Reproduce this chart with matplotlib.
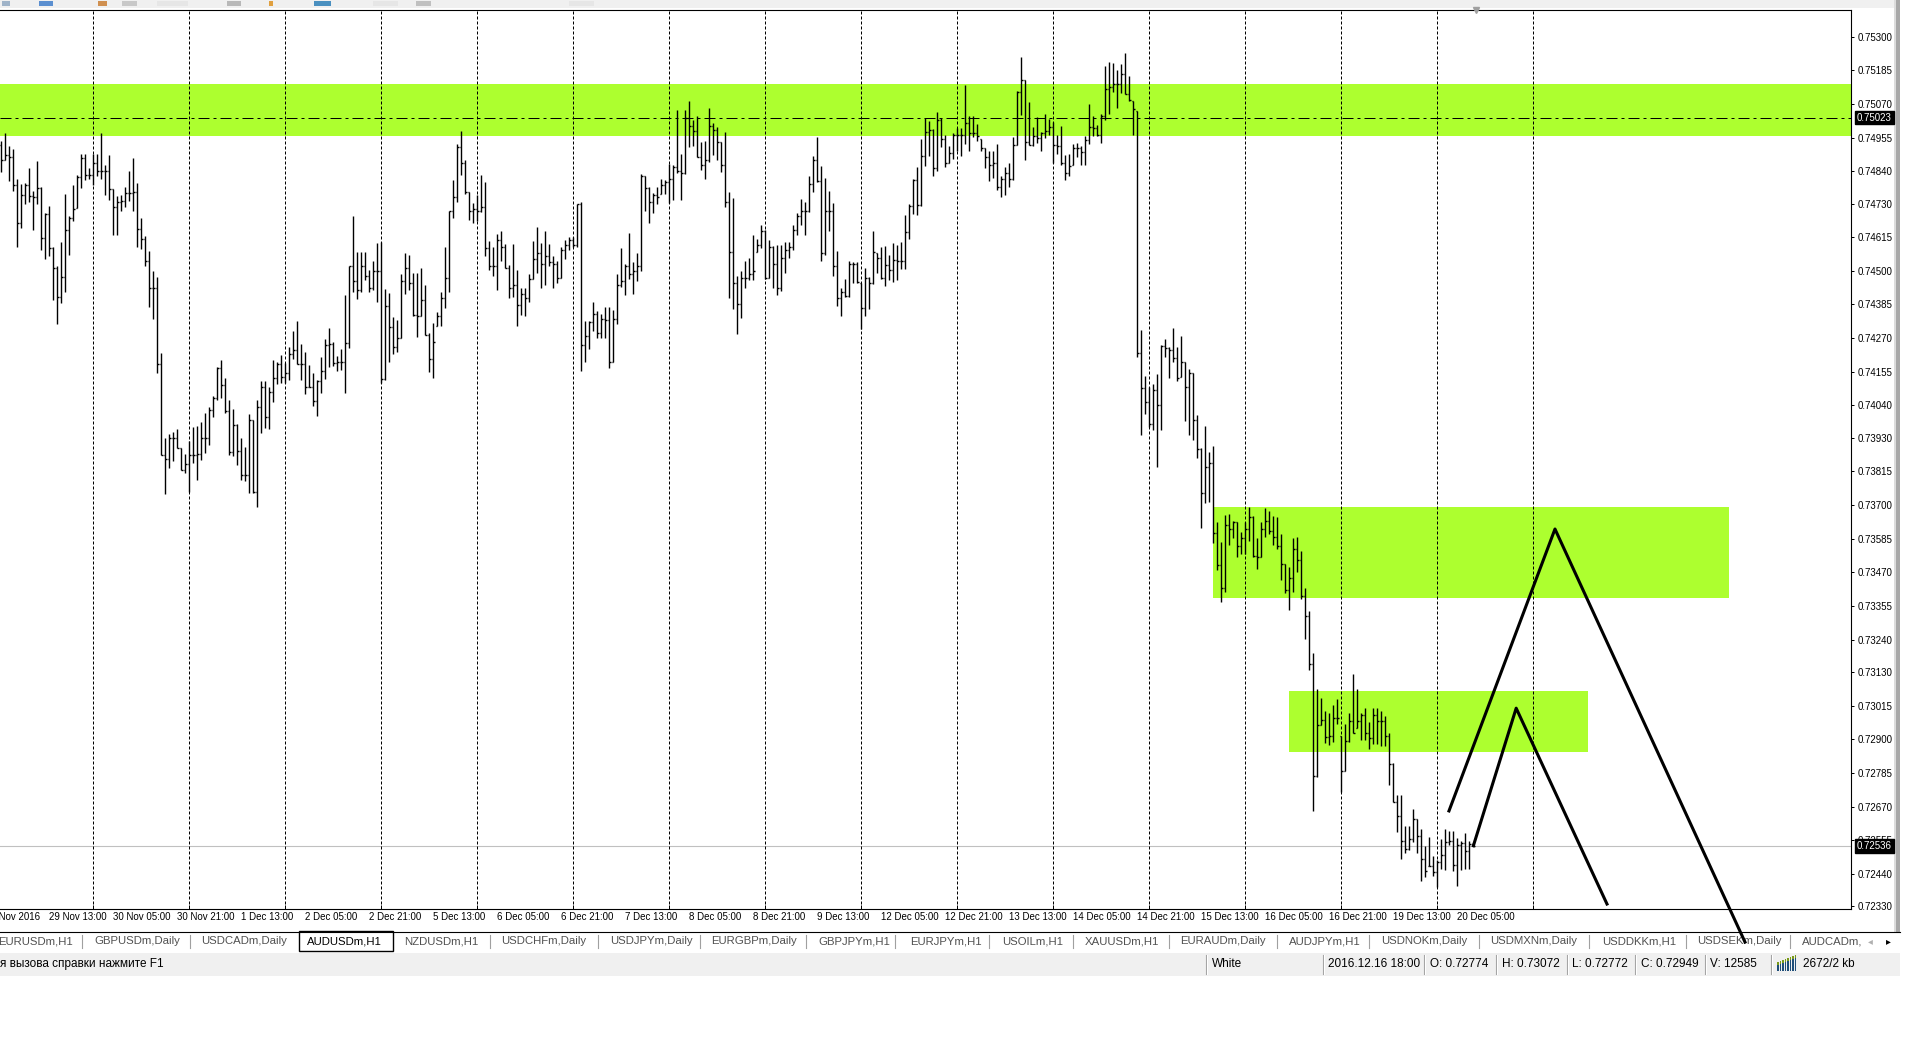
import numpy as np
import matplotlib
matplotlib.use('Agg')
import matplotlib.pyplot as plt
from matplotlib.patches import Rectangle
from matplotlib.lines import Line2D
from matplotlib.transforms import blended_transform_factory

plt.rcParams['font.family'] = ['Liberation Sans', 'DejaVu Sans']

# AUDUSDm H1 bars, 29 Nov 2016 01:00 .. 20 Dec 2016 09:00
opens = [0.74930, 0.74877, 0.74897, 0.74889, 0.74794, 0.74663, 0.74758, 0.74794, 0.74754, 0.74751,
         0.74783, 0.74612, 0.74695, 0.74578, 0.74509, 0.74409, 0.74478, 0.74640, 0.74680, 0.74711,
         0.74820, 0.74885, 0.74828, 0.74829, 0.74868, 0.74842, 0.74842, 0.74842, 0.74780, 0.74718,
         0.74735, 0.74737, 0.74766, 0.74766, 0.74769, 0.74644, 0.74608, 0.74532, 0.74441, 0.74441,
         0.74182, 0.73871, 0.73857, 0.73930, 0.73930, 0.73894, 0.73819, 0.73839, 0.73871, 0.73871,
         0.73873, 0.73930, 0.73930, 0.74025, 0.74067, 0.74167, 0.74109, 0.74021, 0.73881, 0.73973,
         0.73884, 0.73801, 0.73801, 0.73990, 0.73743, 0.74036, 0.74102, 0.73999, 0.74086, 0.74133,
         0.74182, 0.74136, 0.74150, 0.74215, 0.74230, 0.74181, 0.74181, 0.74104, 0.74104, 0.74054,
         0.74125, 0.74159, 0.74247, 0.74250, 0.74184, 0.74187, 0.74187, 0.74253, 0.74517, 0.74464,
         0.74433, 0.74515, 0.74483, 0.74441, 0.74501, 0.74498, 0.74130, 0.74381, 0.74307, 0.74239,
         0.74270, 0.74466, 0.74511, 0.74458, 0.74350, 0.74346, 0.74401, 0.74281, 0.74199, 0.74258,
         0.74346, 0.74407, 0.74477, 0.74703, 0.74752, 0.74923, 0.74868, 0.74768, 0.74706, 0.74711,
         0.74706, 0.74717, 0.74578, 0.74517, 0.74517, 0.74606, 0.74581, 0.74508, 0.74443, 0.74452,
         0.74383, 0.74421, 0.74407, 0.74473, 0.74541, 0.74560, 0.74523, 0.74549, 0.74530, 0.74524,
         0.74475, 0.74570, 0.74587, 0.74604, 0.74587, 0.74728, 0.74247, 0.74278, 0.74324, 0.74353,
         0.74289, 0.74335, 0.74332, 0.74190, 0.74335, 0.74451, 0.74466, 0.74518, 0.74489, 0.74498,
         0.74515, 0.74823, 0.74783, 0.74735, 0.74758, 0.74752, 0.74792, 0.74803, 0.74815, 0.74855,
         0.74840, 0.74834, 0.75022, 0.74996, 0.74977, 0.74889, 0.74863, 0.74877, 0.74996, 0.74982,
         0.74940, 0.74860, 0.74735, 0.74563, 0.74458, 0.74386, 0.74475, 0.74475, 0.74489, 0.74501,
         0.74587, 0.74635, 0.74475, 0.74581, 0.74524, 0.74441, 0.74543, 0.74570, 0.74580, 0.74640,
         0.74688, 0.74706, 0.74703, 0.74798, 0.74877, 0.74806, 0.74560, 0.74703, 0.74703, 0.74515,
         0.74407, 0.74427, 0.74414, 0.74523, 0.74523, 0.74461, 0.74372, 0.74475, 0.74458, 0.74564,
         0.74543, 0.74475, 0.74521, 0.74503, 0.74538, 0.74535, 0.74535, 0.74631, 0.74723, 0.74811,
         0.74726, 0.74891, 0.74973, 0.74982, 0.74851, 0.75016, 0.74950, 0.74868, 0.74902, 0.74963,
         0.74965, 0.74965, 0.75005, 0.74971, 0.74971, 0.74959, 0.74920, 0.74889, 0.74863, 0.74868,
         0.74788, 0.74813, 0.74834, 0.74813, 0.74931, 0.75111, 0.75153, 0.74940, 0.74931, 0.74959,
         0.74954, 0.74971, 0.74977, 0.74991, 0.74931, 0.74927, 0.74868, 0.74834, 0.74859, 0.74920,
         0.74920, 0.74906, 0.74946, 0.74990, 0.74988, 0.74963, 0.75030, 0.75121, 0.75127, 0.75138,
         0.75138, 0.75173, 0.75104, 0.75083, 0.75053, 0.74221, 0.74101, 0.74051, 0.73976, 0.74092,
         0.74042, 0.74244, 0.74235, 0.74231, 0.74203, 0.74135, 0.74187, 0.74102, 0.74151, 0.73989,
         0.73892, 0.73740, 0.73829, 0.73845, 0.73605, 0.73494, 0.73417, 0.73632, 0.73619, 0.73643,
         0.73560, 0.73587, 0.73619, 0.73660, 0.73527, 0.73521, 0.73619, 0.73647, 0.73612, 0.73592,
         0.73560, 0.73497, 0.73410, 0.73450, 0.73550, 0.73513, 0.73388, 0.73321, 0.73157, 0.72774,
         0.72949, 0.72967, 0.72909, 0.72911, 0.72971, 0.72974, 0.72792, 0.72894, 0.72961, 0.72922,
         0.72961, 0.72981, 0.72922, 0.72905, 0.72981, 0.72961, 0.72962, 0.72911, 0.72814, 0.72685,
         0.72639, 0.72552, 0.72526, 0.72559, 0.72628, 0.72570, 0.72492, 0.72450, 0.72466, 0.72446,
         0.72479, 0.72506, 0.72550, 0.72552, 0.72470, 0.72539, 0.72546, 0.72519, 0.72541]

highs = [0.74942, 0.74971, 0.74925, 0.74917, 0.74813, 0.74798, 0.74800, 0.74852, 0.74774, 0.74876,
         0.74788, 0.74697, 0.74723, 0.74583, 0.74518, 0.74599, 0.74763, 0.74686, 0.74792, 0.74827,
         0.74900, 0.74900, 0.74852, 0.74900, 0.74899, 0.74971, 0.74861, 0.74897, 0.74780, 0.74754,
         0.74760, 0.74788, 0.74840, 0.74884, 0.74800, 0.74680, 0.74620, 0.74568, 0.74500, 0.74479,
         0.74218, 0.73928, 0.73944, 0.73949, 0.73960, 0.73895, 0.73873, 0.73919, 0.73966, 0.73971,
         0.73982, 0.74013, 0.74036, 0.74072, 0.74173, 0.74196, 0.74133, 0.74059, 0.74028, 0.73977,
         0.73929, 0.73897, 0.74010, 0.73990, 0.74059, 0.74122, 0.74123, 0.74104, 0.74196, 0.74187,
         0.74213, 0.74184, 0.74239, 0.74295, 0.74329, 0.74249, 0.74224, 0.74179, 0.74150, 0.74127,
         0.74204, 0.74267, 0.74304, 0.74258, 0.74209, 0.74232, 0.74418, 0.74518, 0.74688, 0.74566,
         0.74564, 0.74565, 0.74503, 0.74534, 0.74595, 0.74598, 0.74438, 0.74424, 0.74342, 0.74332,
         0.74489, 0.74560, 0.74554, 0.74492, 0.74492, 0.74509, 0.74451, 0.74287, 0.74321, 0.74361,
         0.74427, 0.74581, 0.74703, 0.74810, 0.74934, 0.74979, 0.74880, 0.74768, 0.74731, 0.74760,
         0.74828, 0.74803, 0.74603, 0.74581, 0.74625, 0.74637, 0.74592, 0.74521, 0.74592, 0.74503,
         0.74441, 0.74443, 0.74489, 0.74603, 0.74649, 0.74595, 0.74637, 0.74592, 0.74549, 0.74535,
         0.74581, 0.74604, 0.74615, 0.74615, 0.74729, 0.74735, 0.74329, 0.74327, 0.74393, 0.74363,
         0.74352, 0.74375, 0.74376, 0.74367, 0.74489, 0.74578, 0.74523, 0.74629, 0.74530, 0.74560,
         0.74831, 0.74823, 0.74785, 0.74766, 0.74785, 0.74815, 0.74811, 0.74865, 0.74860, 0.75051,
         0.74899, 0.75051, 0.75081, 0.75016, 0.75030, 0.74941, 0.74942, 0.75056, 0.75005, 0.74991,
         0.74940, 0.74974, 0.74769, 0.74749, 0.74483, 0.74500, 0.74535, 0.74543, 0.74623, 0.74609,
         0.74657, 0.74640, 0.74606, 0.74586, 0.74587, 0.74587, 0.74598, 0.74600, 0.74655, 0.74697,
         0.74746, 0.74735, 0.74823, 0.74893, 0.74957, 0.74859, 0.74817, 0.74774, 0.74731, 0.74568,
         0.74441, 0.74472, 0.74534, 0.74529, 0.74529, 0.74458, 0.74509, 0.74478, 0.74637, 0.74560,
         0.74581, 0.74586, 0.74555, 0.74595, 0.74589, 0.74597, 0.74692, 0.74729, 0.74813, 0.74853,
         0.74950, 0.75022, 0.75013, 0.74985, 0.75042, 0.75022, 0.74963, 0.74928, 0.74971, 0.74988,
         0.74988, 0.75136, 0.75028, 0.75030, 0.75002, 0.74951, 0.74920, 0.74910, 0.74910, 0.74934,
         0.74825, 0.74855, 0.74868, 0.74957, 0.75113, 0.75231, 0.75153, 0.75078, 0.74991, 0.75024,
         0.74973, 0.75037, 0.75019, 0.75007, 0.74965, 0.74996, 0.74897, 0.74900, 0.74934, 0.74937,
         0.74928, 0.74962, 0.75071, 0.75028, 0.74998, 0.75037, 0.75201, 0.75215, 0.75210, 0.75187,
         0.75205, 0.75244, 0.75165, 0.75081, 0.75047, 0.74298, 0.74140, 0.74103, 0.74115, 0.74148,
         0.74248, 0.74268, 0.74239, 0.74305, 0.74239, 0.74277, 0.74187, 0.74166, 0.74151, 0.74009,
         0.73896, 0.73969, 0.73882, 0.73902, 0.73643, 0.73574, 0.73667, 0.73670, 0.73647, 0.73643,
         0.73607, 0.73643, 0.73693, 0.73663, 0.73587, 0.73643, 0.73689, 0.73680, 0.73663, 0.73660,
         0.73600, 0.73497, 0.73487, 0.73587, 0.73592, 0.73543, 0.73417, 0.73337, 0.73193, 0.73072,
         0.73042, 0.72998, 0.72991, 0.73018, 0.73038, 0.72911, 0.72951, 0.72989, 0.73124, 0.73071,
         0.72989, 0.73005, 0.72958, 0.73005, 0.73005, 0.72995, 0.72978, 0.72921, 0.72818, 0.72708,
         0.72708, 0.72602, 0.72602, 0.72663, 0.72628, 0.72592, 0.72536, 0.72566, 0.72502, 0.72486,
         0.72559, 0.72592, 0.72587, 0.72586, 0.72563, 0.72552, 0.72579, 0.72552, 0.72544]

lows = [0.74836, 0.74880, 0.74806, 0.74771, 0.74580, 0.74648, 0.74729, 0.74734, 0.74640, 0.74728,
        0.74572, 0.74541, 0.74552, 0.74399, 0.74319, 0.74389, 0.74429, 0.74555, 0.74669, 0.74713,
        0.74782, 0.74809, 0.74815, 0.74792, 0.74823, 0.74813, 0.74758, 0.74743, 0.74623, 0.74623,
        0.74706, 0.74717, 0.74739, 0.74706, 0.74583, 0.74574, 0.74515, 0.74375, 0.74335, 0.74150,
        0.73871, 0.73736, 0.73827, 0.73851, 0.73894, 0.73819, 0.73810, 0.73745, 0.73845, 0.73787,
        0.73854, 0.73876, 0.73905, 0.74002, 0.74059, 0.74065, 0.74013, 0.73871, 0.73868, 0.73838,
        0.73787, 0.73783, 0.73740, 0.73740, 0.73694, 0.73947, 0.73962, 0.73960, 0.74053, 0.74112,
        0.74116, 0.74116, 0.74127, 0.74198, 0.74181, 0.74127, 0.74079, 0.74102, 0.74039, 0.74005,
        0.74084, 0.74131, 0.74171, 0.74176, 0.74157, 0.74161, 0.74081, 0.74236, 0.74426, 0.74403,
        0.74429, 0.74469, 0.74427, 0.74433, 0.74395, 0.74116, 0.74127, 0.74187, 0.74216, 0.74224,
        0.74270, 0.74421, 0.74433, 0.74344, 0.74275, 0.74344, 0.74281, 0.74156, 0.74135, 0.74310,
        0.74310, 0.74372, 0.74429, 0.74682, 0.74736, 0.74826, 0.74763, 0.74674, 0.74665, 0.74669,
        0.74700, 0.74549, 0.74503, 0.74481, 0.74433, 0.74535, 0.74508, 0.74407, 0.74410, 0.74310,
        0.74350, 0.74344, 0.74395, 0.74473, 0.74494, 0.74443, 0.74452, 0.74515, 0.74440, 0.74458,
        0.74475, 0.74540, 0.74570, 0.74583, 0.74583, 0.74159, 0.74190, 0.74232, 0.74296, 0.74272,
        0.74272, 0.74270, 0.74169, 0.74190, 0.74318, 0.74444, 0.74416, 0.74473, 0.74420, 0.74464,
        0.74498, 0.74706, 0.74663, 0.74697, 0.74728, 0.74762, 0.74763, 0.74731, 0.74743, 0.74834,
        0.74743, 0.74831, 0.74923, 0.74925, 0.74889, 0.74845, 0.74813, 0.74871, 0.74897, 0.74877,
        0.74837, 0.74718, 0.74407, 0.74369, 0.74283, 0.74338, 0.74441, 0.74469, 0.74469, 0.74564,
        0.74578, 0.74472, 0.74474, 0.74443, 0.74416, 0.74432, 0.74492, 0.74543, 0.74572, 0.74621,
        0.74655, 0.74623, 0.74700, 0.74768, 0.74802, 0.74532, 0.74555, 0.74635, 0.74484, 0.74381,
        0.74344, 0.74412, 0.74412, 0.74460, 0.74458, 0.74300, 0.74346, 0.74370, 0.74454, 0.74492,
        0.74472, 0.74449, 0.74467, 0.74461, 0.74467, 0.74506, 0.74506, 0.74609, 0.74694, 0.74692,
        0.74723, 0.74857, 0.74891, 0.74825, 0.74840, 0.74923, 0.74855, 0.74868, 0.74882, 0.74908,
        0.74891, 0.74934, 0.74908, 0.74957, 0.74942, 0.74908, 0.74851, 0.74806, 0.74817, 0.74777,
        0.74752, 0.74758, 0.74788, 0.74811, 0.74931, 0.75031, 0.74880, 0.74931, 0.74927, 0.74937,
        0.74910, 0.74954, 0.74965, 0.74868, 0.74899, 0.74863, 0.74809, 0.74823, 0.74863, 0.74889,
        0.74863, 0.74860, 0.74934, 0.74959, 0.74959, 0.74937, 0.75016, 0.75037, 0.75111, 0.75056,
        0.75108, 0.75104, 0.75081, 0.74963, 0.74207, 0.73939, 0.74010, 0.73965, 0.73955, 0.73829,
        0.73955, 0.74206, 0.74135, 0.74187, 0.74123, 0.74138, 0.73986, 0.73938, 0.73922, 0.73862,
        0.73623, 0.73707, 0.73712, 0.73570, 0.73477, 0.73370, 0.73404, 0.73563, 0.73587, 0.73523,
        0.73534, 0.73534, 0.73576, 0.73521, 0.73483, 0.73521, 0.73592, 0.73600, 0.73563, 0.73550,
        0.73443, 0.73401, 0.73340, 0.73404, 0.73470, 0.73380, 0.73244, 0.73135, 0.72655, 0.72772,
        0.72949, 0.72888, 0.72881, 0.72889, 0.72951, 0.72721, 0.72792, 0.72891, 0.72921, 0.72938,
        0.72898, 0.72898, 0.72865, 0.72885, 0.72882, 0.72876, 0.72878, 0.72745, 0.72685, 0.72582,
        0.72492, 0.72512, 0.72523, 0.72550, 0.72512, 0.72417, 0.72430, 0.72466, 0.72433, 0.72395,
        0.72457, 0.72453, 0.72539, 0.72450, 0.72399, 0.72453, 0.72457, 0.72457, 0.72535]

closes = [0.74877, 0.74897, 0.74889, 0.74794, 0.74663, 0.74758, 0.74794, 0.74754, 0.74751, 0.74783,
          0.74612, 0.74695, 0.74578, 0.74509, 0.74409, 0.74478, 0.74640, 0.74680, 0.74711, 0.74820,
          0.74885, 0.74828, 0.74829, 0.74868, 0.74842, 0.74842, 0.74842, 0.74780, 0.74718, 0.74735,
          0.74737, 0.74766, 0.74766, 0.74769, 0.74644, 0.74608, 0.74532, 0.74441, 0.74441, 0.74182,
          0.73871, 0.73857, 0.73930, 0.73930, 0.73894, 0.73819, 0.73839, 0.73871, 0.73871, 0.73873,
          0.73930, 0.73930, 0.74025, 0.74067, 0.74167, 0.74109, 0.74021, 0.73881, 0.73973, 0.73884,
          0.73801, 0.73801, 0.73990, 0.73743, 0.74036, 0.74102, 0.73999, 0.74086, 0.74133, 0.74182,
          0.74136, 0.74150, 0.74215, 0.74230, 0.74181, 0.74181, 0.74104, 0.74104, 0.74054, 0.74125,
          0.74159, 0.74247, 0.74250, 0.74184, 0.74187, 0.74187, 0.74253, 0.74517, 0.74464, 0.74433,
          0.74515, 0.74483, 0.74441, 0.74501, 0.74498, 0.74130, 0.74381, 0.74307, 0.74239, 0.74270,
          0.74466, 0.74511, 0.74458, 0.74350, 0.74346, 0.74401, 0.74281, 0.74199, 0.74258, 0.74346,
          0.74407, 0.74477, 0.74703, 0.74752, 0.74923, 0.74868, 0.74768, 0.74706, 0.74711, 0.74706,
          0.74717, 0.74578, 0.74517, 0.74517, 0.74606, 0.74581, 0.74508, 0.74443, 0.74452, 0.74383,
          0.74421, 0.74407, 0.74473, 0.74541, 0.74560, 0.74523, 0.74549, 0.74530, 0.74524, 0.74475,
          0.74570, 0.74587, 0.74604, 0.74587, 0.74728, 0.74247, 0.74278, 0.74324, 0.74353, 0.74289,
          0.74335, 0.74332, 0.74190, 0.74335, 0.74451, 0.74466, 0.74518, 0.74489, 0.74498, 0.74515,
          0.74823, 0.74783, 0.74735, 0.74758, 0.74752, 0.74792, 0.74803, 0.74815, 0.74855, 0.74840,
          0.74834, 0.75022, 0.74996, 0.74977, 0.74889, 0.74863, 0.74877, 0.74996, 0.74982, 0.74940,
          0.74860, 0.74735, 0.74563, 0.74458, 0.74386, 0.74475, 0.74475, 0.74489, 0.74501, 0.74587,
          0.74635, 0.74475, 0.74581, 0.74524, 0.74441, 0.74543, 0.74570, 0.74580, 0.74640, 0.74688,
          0.74706, 0.74703, 0.74798, 0.74877, 0.74806, 0.74560, 0.74703, 0.74703, 0.74515, 0.74407,
          0.74427, 0.74414, 0.74523, 0.74523, 0.74461, 0.74372, 0.74475, 0.74458, 0.74564, 0.74543,
          0.74475, 0.74521, 0.74503, 0.74538, 0.74535, 0.74535, 0.74631, 0.74723, 0.74811, 0.74726,
          0.74891, 0.74973, 0.74982, 0.74851, 0.75016, 0.74950, 0.74868, 0.74902, 0.74963, 0.74965,
          0.74965, 0.75005, 0.74971, 0.74971, 0.74959, 0.74920, 0.74889, 0.74863, 0.74868, 0.74788,
          0.74813, 0.74834, 0.74813, 0.74931, 0.75111, 0.75153, 0.74940, 0.74931, 0.74959, 0.74954,
          0.74971, 0.74977, 0.74991, 0.74931, 0.74927, 0.74868, 0.74834, 0.74859, 0.74920, 0.74920,
          0.74906, 0.74946, 0.74990, 0.74988, 0.74963, 0.75030, 0.75121, 0.75127, 0.75138, 0.75138,
          0.75173, 0.75104, 0.75083, 0.75053, 0.74221, 0.74101, 0.74051, 0.73976, 0.74092, 0.74042,
          0.74244, 0.74235, 0.74231, 0.74203, 0.74135, 0.74187, 0.74102, 0.74151, 0.73989, 0.73892,
          0.73740, 0.73829, 0.73845, 0.73605, 0.73494, 0.73417, 0.73632, 0.73619, 0.73643, 0.73560,
          0.73587, 0.73619, 0.73660, 0.73527, 0.73521, 0.73619, 0.73647, 0.73612, 0.73592, 0.73560,
          0.73497, 0.73410, 0.73450, 0.73550, 0.73513, 0.73388, 0.73321, 0.73157, 0.72774, 0.72949,
          0.72967, 0.72909, 0.72911, 0.72971, 0.72974, 0.72792, 0.72894, 0.72961, 0.72922, 0.72961,
          0.72981, 0.72922, 0.72905, 0.72981, 0.72961, 0.72962, 0.72911, 0.72814, 0.72685, 0.72639,
          0.72552, 0.72526, 0.72559, 0.72628, 0.72570, 0.72492, 0.72450, 0.72466, 0.72446, 0.72479,
          0.72506, 0.72550, 0.72552, 0.72470, 0.72539, 0.72546, 0.72519, 0.72541, 0.72536]

price_ticks = [0.75300, 0.75185, 0.75070, 0.74955, 0.74840, 0.74730, 0.74615, 0.74500, 0.74385,
               0.74270, 0.74155, 0.74040, 0.73930, 0.73815, 0.73700, 0.73585, 0.73470, 0.73355,
               0.73240, 0.73130, 0.73015, 0.72900, 0.72785, 0.72670, 0.72555, 0.72440, 0.72330]

time_labels = ['29 Nov 2016', '29 Nov 13:00', '30 Nov 05:00', '30 Nov 21:00', '1 Dec 13:00',
               '2 Dec 05:00', '2 Dec 21:00', '5 Dec 13:00', '6 Dec 05:00', '6 Dec 21:00',
               '7 Dec 13:00', '8 Dec 05:00', '8 Dec 21:00', '9 Dec 13:00', '12 Dec 05:00',
               '12 Dec 21:00', '13 Dec 13:00', '14 Dec 05:00', '14 Dec 21:00', '15 Dec 13:00',
               '16 Dec 05:00', '16 Dec 21:00', '19 Dec 13:00', '20 Dec 05:00']
label_bars = [-4, 12, 28, 44, 60, 76, 92, 108, 124, 140, 156, 172, 188, 204, 220, 236,
              252, 268, 284, 300, 316, 332, 348, 364]
day_bars = [23, 47, 71, 95, 119, 143, 167, 191, 215, 239, 263, 287, 311, 335, 359, 383]

# supply/demand zones: (first bar, last bar, bottom, top)
zone_start = [-5, 303, 322]
zone_end = [470, 432, 396.7]
zone_low = [0.74962, 0.73384, 0.72858]
zone_high = [0.75139, 0.73693, 0.73064]

level_price = 0.75023
bid_price = 0.72536

# hand-drawn zigzag projections
zig1_x = [361.9, 388.4, 435.9]
zig1_y = [0.72655, 0.73618, 0.72207]
zig2_x = [368.0, 378.7, 401.4]
zig2_y = [0.72536, 0.73006, 0.72337]

tabs = ['EURUSDm,H1', 'GBPUSDm,Daily', 'USDCADm,Daily', 'AUDUSDm,H1', 'NZDUSDm,H1',
        'USDCHFm,Daily', 'USDJPYm,Daily', 'EURGBPm,Daily', 'GBPJPYm,H1', 'EURJPYm,H1',
        'USOILm,H1', 'XAUUSDm,H1', 'EURAUDm,Daily', 'AUDJPYm,H1', 'USDNOKm,Daily',
        'USDMXNm,Daily', 'USDDKKm,H1', 'USDSEKm,Daily', 'AUDCADm,']
tab_x = [-2, 94, 201, 307, 404, 501, 610, 711, 818, 910, 1002, 1085, 1180, 1289, 1381,
         1490, 1602, 1697, 1802]
tab_sep_x = [82, 190, 490, 598, 700, 806, 895, 989, 1073, 1169, 1277, 1369, 1479, 1589,
             1686, 1790]

status_items = ['White', '2016.12.16 18:00', 'O: 0.72774', 'H: 0.73072', 'L: 0.72772',
                'C: 0.72949', 'V: 12585', '2672/2 kb']
status_x = [1212, 1328, 1430, 1502, 1572, 1641, 1710, 1803]
status_sep_x = [1206, 1323, 1424, 1496, 1567, 1635, 1705, 1771]

W, H = 1920, 1040


def fx(px):
    return px / W


def fy(py):
    return 1 - py / H


fig = plt.figure(figsize=(19.2, 10.4), dpi=100)
fig.patch.set_facecolor('white')

ax = fig.add_axes([0, fy(909), 1851 / W, (909 - 10) / H])
ax.set_zorder(5)
ax.set_facecolor('white')
ax.set_xlim(-0.325, 462.4)
ax.set_ylim(0.72320, 0.75391)

x = np.arange(len(closes))
o = np.clip(opens, lows, highs)

for s, e, lo, hi in zip(zone_start, zone_end, zone_low, zone_high):
    ax.add_patch(Rectangle((s, lo), e - s, hi - lo, facecolor='#adff2f',
                           edgecolor='none', zorder=1))

for b in day_bars:
    ax.axvline(b, color='black', lw=0.72, ls=(0, (3, 2)), zorder=2)

ax.axhline(bid_price, color='#c0c0c0', lw=0.8, zorder=1.5)
ax.axhline(level_price, color='black', lw=0.72, ls=(0, (11, 4, 3, 4)), zorder=2.5)

ax.vlines(x, lows, highs, colors='black', lw=1.0, zorder=3)
ax.hlines(o, x - 0.4, x, colors='black', lw=1.0, zorder=3)
ax.hlines(closes, x, x + 0.4, colors='black', lw=1.0, zorder=3)

ax.plot(zig1_x, zig1_y, color='black', lw=2.2, clip_on=False, zorder=8)
ax.plot(zig2_x, zig2_y, color='black', lw=2.2, clip_on=False, zorder=8)

# chart shift marker
ax.plot([368.7], [0.75391], marker='v', color='#a0a0a0', markersize=5, clip_on=False, zorder=9)

ax.yaxis.tick_right()
ax.set_yticks(price_ticks)
ax.set_yticklabels(['%.5f' % p for p in price_ticks])
ax.tick_params(axis='y', direction='out', length=2.2, width=0.72, pad=2.5, labelsize=7)
ax.set_xticks(day_bars)
ax.set_xticklabels([])
ax.tick_params(axis='x', direction='in', length=3, width=0.72)
ax.spines['left'].set_visible(False)
for side in ['top', 'right', 'bottom']:
    ax.spines[side].set_linewidth(0.8)

tr_y = blended_transform_factory(ax.transAxes, ax.transData)
for p in [level_price, bid_price]:
    ax.text(1.0033, p, '%.5f' % p, transform=tr_y, fontsize=7, color='white',
            ha='left', va='center', clip_on=False, zorder=10,
            bbox=dict(boxstyle='square,pad=0.18', facecolor='black', edgecolor='black'))

tr_x = blended_transform_factory(ax.transData, fig.transFigure)
for b, lbl in zip(label_bars, time_labels):
    ax.text(b, fy(917), lbl, transform=tr_x, fontsize=7, ha='left', va='center',
            clip_on=False)

fig.text(fx(1), fy(17), 'AUDUSDm,H1  0.72541 0.72544 0.72535 0.72536', fontsize=7,
         ha='left', va='center')

# toolbar strip
fig.add_artist(Rectangle((0, fy(8)), fx(1900), 8 / H, transform=fig.transFigure,
                         facecolor='#f0f0f0', edgecolor='none'))
for x0, w, c in [(2, 8, '#9fb3c8'), (39, 14, '#5b8fd0'), (98, 9, '#d09050'), (122, 15, '#c8c8c8'),
                 (157, 31, '#e6e6e6'), (227, 14, '#b8b8b8'), (269, 4, '#e0a040'),
                 (314, 17, '#4a90c0'), (373, 25, '#e6e6e6'), (416, 15, '#c0c0c0'),
                 (569, 25, '#e6e6e6')]:
    fig.add_artist(Rectangle((fx(x0), fy(6)), w / W, 5 / H, transform=fig.transFigure,
                             facecolor=c, edgecolor='none'))

# right window border
fig.add_artist(Rectangle((fx(1894), fy(932)), 2 / W, 932 / H, transform=fig.transFigure,
                         facecolor='#dcdcdc', edgecolor='none'))
fig.add_artist(Rectangle((fx(1896), fy(932)), 4 / W, 932 / H, transform=fig.transFigure,
                         facecolor='#a8a8a8', edgecolor='none'))

# tab bar
fig.add_artist(Line2D([0, fx(1900)], [fy(932), fy(932)], transform=fig.transFigure,
                      color='black', lw=0.8))
fig.add_artist(Rectangle((fx(299), fy(951)), 94 / W, 20 / H, transform=fig.transFigure,
                         facecolor='white', edgecolor='black', lw=1.0))
for name, tx in zip(tabs, tab_x):
    fig.text(fx(tx), fy(941), name, fontsize=8.2, ha='left', va='center',
             color='black' if name == 'AUDUSDm,H1' else '#505050')
for sx in tab_sep_x:
    fig.add_artist(Line2D([fx(sx), fx(sx)], [fy(935), fy(948)], transform=fig.transFigure,
                          color='#a0a0a0', lw=0.8))
fig.add_artist(Rectangle((fx(1862), fy(951)), 38 / W, 18 / H, transform=fig.transFigure,
                         facecolor='white', edgecolor='none'))
fig.text(fx(1868), fy(941), '\u25c2', fontsize=7, color='#b0b0b0', ha='left', va='center',
         family=['DejaVu Sans'])
fig.text(fx(1886), fy(941), '\u25b8', fontsize=7, color='black', ha='left', va='center',
         family=['DejaVu Sans'])

# status bar
fig.add_artist(Rectangle((0, fy(976)), fx(1900), 23 / H, transform=fig.transFigure,
                         facecolor='#f0f0f0', edgecolor='none'))
fig.text(fx(0), fy(964), 'я вызова справки нажмите F1', fontsize=8.5, ha='left', va='center')
for sx in status_sep_x:
    fig.add_artist(Line2D([fx(sx), fx(sx)], [fy(955), fy(974)], transform=fig.transFigure,
                          color='#a0a0a0', lw=0.8))
    fig.add_artist(Line2D([fx(sx + 1), fx(sx + 1)], [fy(955), fy(974)], transform=fig.transFigure,
                          color='white', lw=0.8))
for item, tx in zip(status_items, status_x):
    fig.text(fx(tx), fy(964), item, fontsize=8.5, ha='left', va='center')
for i in range(8):
    h = 6 + i
    fig.add_artist(Rectangle((fx(1777 + 2.5 * i), fy(971)), 1.6 / W, h / H,
                             transform=fig.transFigure, facecolor='#1f4e79', edgecolor='none'))
    fig.add_artist(Rectangle((fx(1777 + 2.5 * i), fy(971 - h)), 1.6 / W, 3 / H,
                             transform=fig.transFigure, facecolor='#7a9a1a', edgecolor='none'))

fig.savefig('out.png', dpi=100)
